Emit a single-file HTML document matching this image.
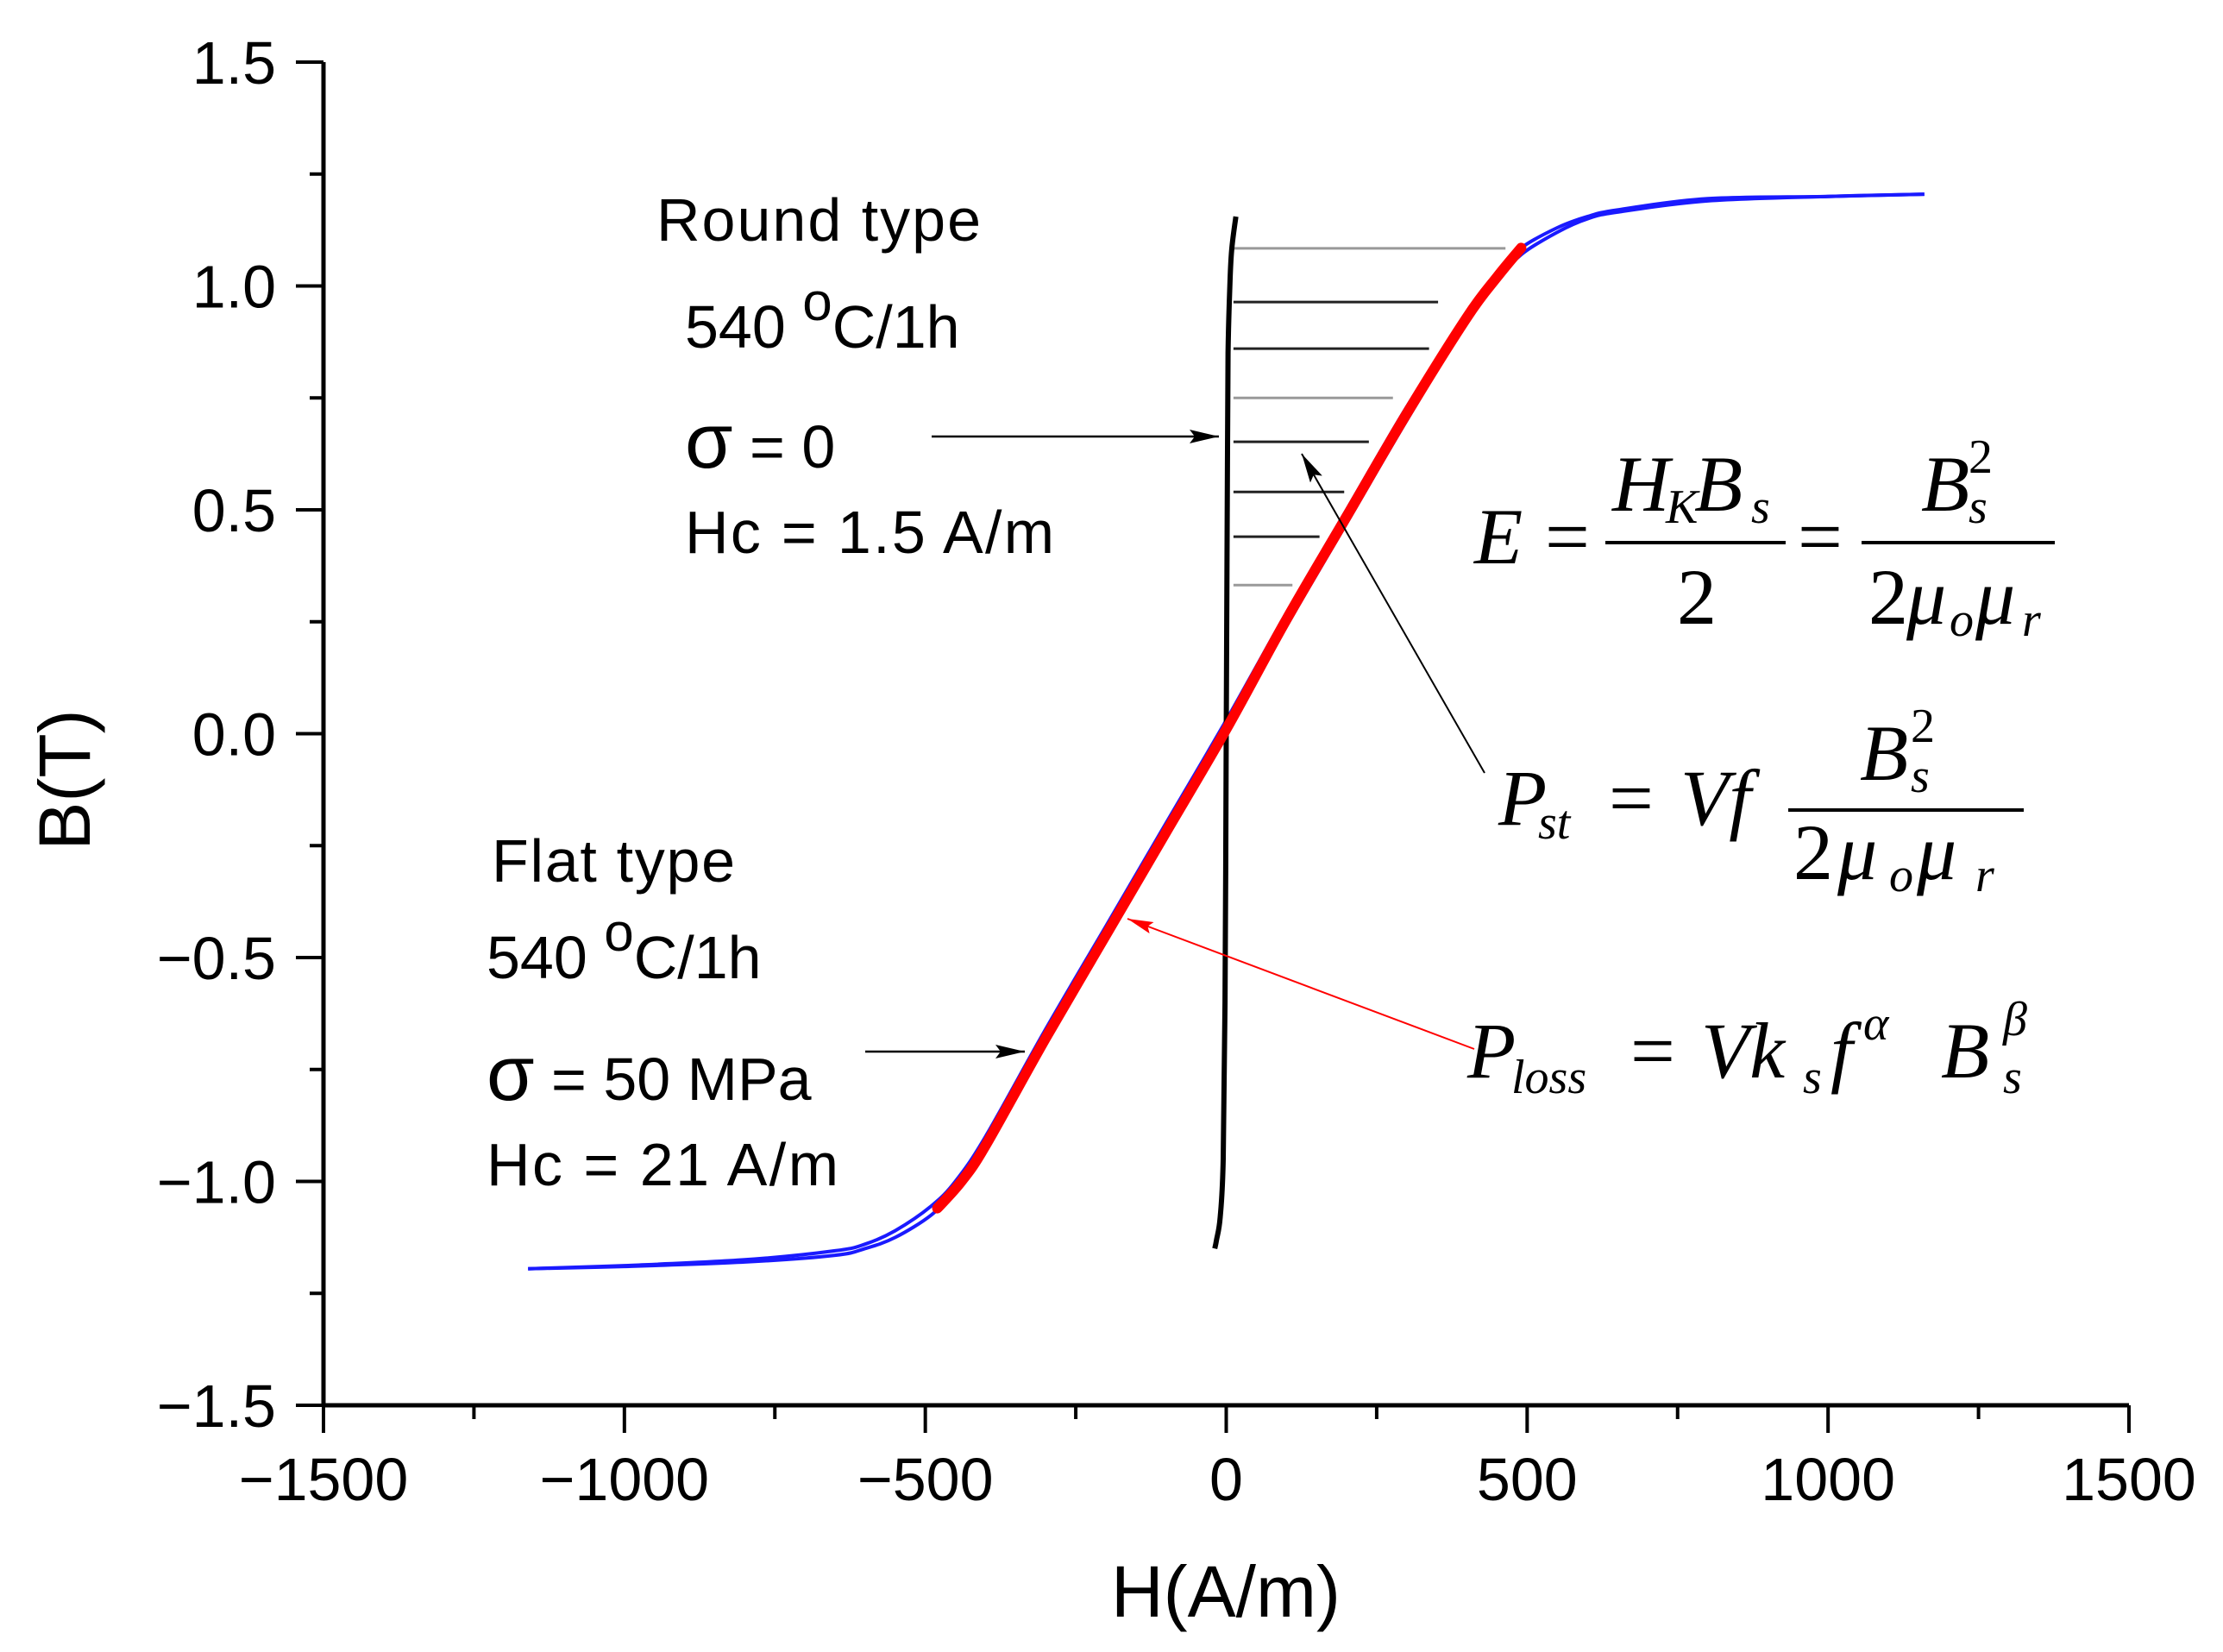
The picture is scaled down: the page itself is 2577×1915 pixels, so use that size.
<!DOCTYPE html>
<html><head><meta charset="utf-8">
<style>
html,body{margin:0;padding:0;background:#fff;}
svg{display:block;}
.s{font-family:"Liberation Sans",sans-serif;}
.m{font-family:"Liberation Serif",serif;font-style:italic;}
</style></head>
<body>
<svg id="chart" width="2577" height="1915" viewBox="0 0 2577 1915" xmlns="http://www.w3.org/2000/svg">
<defs>
<marker id="ah" markerWidth="34" markerHeight="16" refX="34" refY="8" orient="auto" markerUnits="userSpaceOnUse" viewBox="0 0 34 16"><path d="M0,0 L34,8 L0,16 L6,8 z" fill="#000"/></marker>
<marker id="ahr" markerWidth="30" markerHeight="14" refX="30" refY="7" orient="auto" viewBox="0 0 30 14" markerUnits="userSpaceOnUse"><path d="M0,0 L30,7 L0,14 L5,7 z" fill="#f00"/></marker>
</defs>
<g id="marks"></g>
<g id="axes"></g>
<g class="s" font-size="70" fill="#000">
<text x="761" y="279" textLength="376">Round type</text>
<text x="794" y="403">540 <tspan dy="-32" font-size="62">o</tspan><tspan dy="32">C/1h</tspan></text>
<text x="794" y="542"><tspan font-size="90">σ</tspan> = 0</text>
<text x="794" y="641" textLength="428">Hc = 1.5 A/m</text>
<text x="570" y="1022" textLength="282">Flat type</text>
<text x="564" y="1134">540 <tspan dy="-32" font-size="62">o</tspan><tspan dy="32">C/1h</tspan></text>
<text x="564" y="1275"><tspan font-size="90">σ</tspan> = 50 MPa</text>
<text x="564" y="1374" textLength="408">Hc = 21 A/m</text>
</g>
<g>
<line x1="1080" y1="506" x2="1413" y2="506" stroke="#000" stroke-width="2.5" marker-end="url(#ah)"/>
<line x1="1003" y1="1219" x2="1188" y2="1219" stroke="#000" stroke-width="2.5" marker-end="url(#ah)"/>
<line x1="1721" y1="896" x2="1509" y2="526" stroke="#000" stroke-width="2" marker-end="url(#ah)"/>
<line x1="1709" y1="1216" x2="1307" y2="1065" stroke="#f00" stroke-width="2" marker-end="url(#ahr)"/>
</g>
<g class="m" font-size="92" fill="#000">
<g>
<text x="1709" y="653">E</text>
<text x="1791" y="653" font-style="normal">=</text>
<text x="1869" y="592">H</text><text x="1931" y="606" font-size="56">K</text>
<text x="1964" y="592">B</text><text x="2030" y="606" font-size="56">s</text>
<line x1="1861" y1="629" x2="2070" y2="629" stroke="#000" stroke-width="4"/>
<text x="1944" y="723" font-style="normal">2</text>
<text x="2084" y="653" font-style="normal">=</text>
<text x="2227" y="592">B</text><text x="2282" y="548" font-size="56" font-style="normal">2</text><text x="2282" y="606" font-size="56">s</text>
<line x1="2158" y1="629" x2="2382" y2="629" stroke="#000" stroke-width="4"/>
<text x="2166" y="723" font-style="normal">2</text><text x="2210" y="723">μ</text><text x="2260" y="737" font-size="56">o</text><text x="2290" y="723">μ</text><text x="2344" y="737" font-size="56">r</text>
</g>
<g>
<text x="1737" y="956">P</text><text x="1783" y="972" font-size="56">st</text>
<text x="1865" y="956" font-style="normal">=</text>
<text x="1948" y="956">Vf</text>
<text x="2156" y="904">B</text><text x="2215" y="860" font-size="56" font-style="normal">2</text><text x="2215" y="918" font-size="56">s</text>
<line x1="2073" y1="939" x2="2346" y2="939" stroke="#000" stroke-width="4"/>
<text x="2079" y="1019" font-style="normal">2</text><text x="2130" y="1019">μ</text><text x="2190" y="1033" font-size="56">o</text><text x="2222" y="1019">μ</text><text x="2290" y="1033" font-size="56">r</text>
</g>
<g>
<text x="1701" y="1249">P</text><text x="1752" y="1267" font-size="56">loss</text>
<text x="1890" y="1249" font-style="normal">=</text>
<text x="1972" y="1249">Vk</text><text x="2090" y="1267" font-size="56">s</text>
<text x="2122" y="1249">f</text><text x="2160" y="1205" font-size="56">α</text>
<text x="2250" y="1249">B</text><text x="2322" y="1200" font-size="56">β</text><text x="2322" y="1267" font-size="56">s</text>
</g>
</g>
</svg>
<script>
const hVals = [-1160,-1000,-800,-650,-600,-550,-490,-450,-400,-300,-200,-100,0,100,200,300,400,450,490,550,600,650,800,1000,1160];
const bAscending = [-1.195,-1.19,-1.18,-1.165,-1.15,-1.125,-1.075,-1.02,-0.93,-0.69,-0.46,-0.23,0.0,0.24,0.47,0.70,0.92,1.01,1.07,1.12,1.15,1.165,1.19,1.20,1.205];
const bDescending = [-1.195,-1.188,-1.175,-1.155,-1.14,-1.11,-1.055,-1.0,-0.90,-0.66,-0.43,-0.20,0.03,0.27,0.50,0.73,0.94,1.03,1.085,1.13,1.155,1.17,1.195,1.20,1.205];
const hRed = [-480,-440,-400,-300,-200,-100,0,100,200,300,400,450,490];
const bRed = [-1.06,-1.0,-0.92,-0.68,-0.45,-0.22,0.01,0.255,0.485,0.715,0.93,1.02,1.085];
const hRound = [-19,-16,-10,-5,-2,0,1,2,3,6,9,16];
const bRound = [-1.15,-1.13,-1.08,-0.95,-0.6,0,0.3,0.6,0.85,1.0,1.08,1.155];
const hatchB = [1.084,0.964,0.860,0.750,0.652,0.540,0.440,0.332];
const hatchHEnd = [464,352,337,277,237,196,155,110];
const xTicks = [-1500,-1000,-500,0,500,1000,1500];
const yTicks = [-1.5,-1.0,-0.5,0.0,0.5,1.0,1.5];
const xTickLabels = ["\u22121500","\u22121000","\u2212500","0","500","1000","1500"];
const yTickLabels = ["\u22121.5","\u22121.0","\u22120.5","0.0","0.5","1.0","1.5"];

const X0=375,X1=2468,Y0=1629,Y1=72;
const sx = h => X0 + (h+1500)/3000*(X1-X0);
const sy = b => Y0 - (b+1.5)/3*(Y0-Y1);
const NS="http://www.w3.org/2000/svg";
const marks=document.getElementById('marks');
const axes=document.getElementById('axes');
function mk(tag,attrs,parent){const e=document.createElementNS(NS,tag);for(const k in attrs)e.setAttribute(k,attrs[k]);parent.appendChild(e);return e;}
function smooth(hs,bs){
  const P=hs.map((h,i)=>[sx(h),sy(bs[i])]);
  let d='M'+P[0][0].toFixed(1)+','+P[0][1].toFixed(1);
  for(let i=0;i<P.length-1;i++){
    const p0=P[Math.max(0,i-1)],p1=P[i],p2=P[i+1],p3=P[Math.min(P.length-1,i+2)];
    const c1=[p1[0]+(p2[0]-p0[0])/6,p1[1]+(p2[1]-p0[1])/6];
    const c2=[p2[0]-(p3[0]-p1[0])/6,p2[1]-(p3[1]-p1[1])/6];
    d+=' C'+c1[0].toFixed(1)+','+c1[1].toFixed(1)+' '+c2[0].toFixed(1)+','+c2[1].toFixed(1)+' '+p2[0].toFixed(1)+','+p2[1].toFixed(1);
  }
  return d;
}

hatchB.forEach((b,i)=>{
  const l=mk('line',{x1:sx(12),y1:sy(b),x2:sx(hatchHEnd[i]),y2:sy(b),stroke:(i===0||i===3||i===7)?'#999':'#222','stroke-width':3},marks);
  
  
});
let p=mk('path',{d:smooth(hVals,bAscending),fill:'none',stroke:'#1a1aff','stroke-width':4},marks);


p=mk('path',{d:smooth(hVals,bDescending),fill:'none',stroke:'#1a1aff','stroke-width':4},marks);


p=mk('path',{d:smooth(hRound,bRound),fill:'none',stroke:'#000','stroke-width':6},marks);


p=mk('path',{d:smooth(hRed,bRed),fill:'none',stroke:'#ff0000','stroke-width':12,'stroke-linecap':'round'},marks);



let a=mk('line',{x1:X0,y1:Y0,x2:X1,y2:Y0,stroke:'#000','stroke-width':5},axes);


a=mk('line',{x1:X0,y1:Y0,x2:X0,y2:Y1,stroke:'#000','stroke-width':5},axes);


for(let h=-1500;h<=1500;h+=250){const major=h%500===0;
  const t=mk('line',{x1:sx(h),y1:Y0,x2:sx(h),y2:Y0+(major?32:16),stroke:'#000','stroke-width':4},axes);
  
  }
for(let k=-6;k<=6;k++){const b=k*0.25;const major=k%2===0;
  const t=mk('line',{x1:X0-(major?32:16),y1:sy(b),x2:X0,y2:sy(b),stroke:'#000','stroke-width':4},axes);
  
  }
xTicks.forEach((h,i)=>{const t=mk('text',{x:sx(h),y:1739,'text-anchor':'middle','font-size':70,'class':'s'},axes);t.textContent=xTickLabels[i];
  
  });
yTicks.forEach((b,i)=>{const t=mk('text',{x:320,y:sy(b)+25,'text-anchor':'end','font-size':70,'class':'s'},axes);t.textContent=yTickLabels[i];
  
  });
let tt=mk('text',{x:1421,y:1874,'text-anchor':'middle','font-size':84,'class':'s'},axes);tt.textContent='H(A/m)';


tt=mk('text',{x:0,y:0,'text-anchor':'middle','font-size':84,'class':'s',transform:'translate(104,904) rotate(-90)'},axes);tt.textContent='B(T)';


</script>
</body></html>
